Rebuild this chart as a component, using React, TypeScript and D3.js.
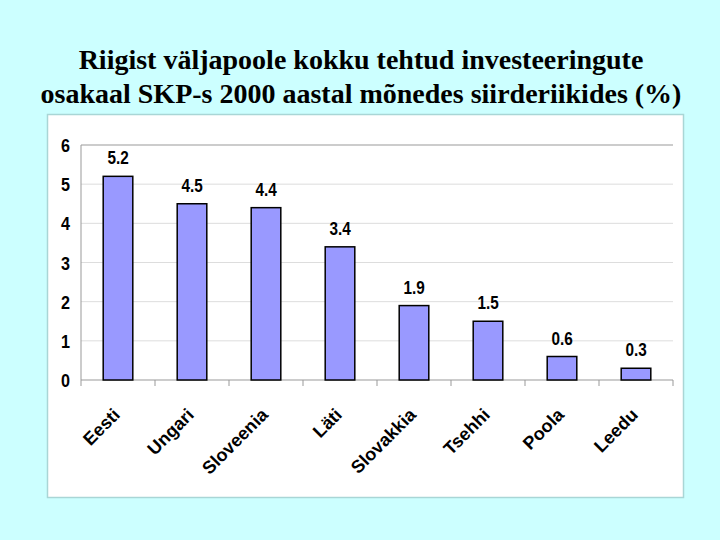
import React from "react";
import * as d3 from "d3";

const categories = ["Eesti", "Ungari", "Sloveenia", "Läti", "Slovakkia", "Tsehhi", "Poola", "Leedu"];
const values = [5.2, 4.5, 4.4, 3.4, 1.9, 1.5, 0.6, 0.3];
const yTicks = [0, 1, 2, 3, 4, 5, 6];
const titleLines = [
  "Riigist väljapoole kokku tehtud investeeringute",
  "osakaal SKP-s 2000 aastal mõnedes siirderiikides (%)",
];

export default function App() {
  const W = 720, H = 540;
  const left = 81, right = 673, top = 145, bottom = 380;
  const x = d3.scaleBand<string>().domain(categories).range([left, right]).paddingInner(0.6).paddingOuter(0.3);
  const xb = d3.scaleBand<string>().domain(categories).range([left, right]);
  const y = d3.scaleLinear().domain([0, 6]).range([bottom, top]);
  const font = "Arial, 'Liberation Sans', sans-serif";
  return (
    <svg width={W} height={H} style={{ position: "absolute", left: 0, top: 0 }}>
      <rect x={0} y={0} width={W} height={H} fill="#CCFFFF" />
      <rect x={47.5} y={114.5} width={636} height={383} fill="#fff" stroke="#a9d6d6" strokeWidth={1.5} />
      {titleLines.map((t, i) => (
        <text key={i} x={361} y={69 + i * 34} textAnchor="middle" fontFamily="'Times New Roman', 'Liberation Serif', serif" fontWeight="bold" fontSize={28} fill="#000">{t}</text>
      ))}
      {yTicks.map((t) => (
        <g key={t}>
          {t > 0 && <line x1={left} x2={right} y1={y(t)} y2={y(t)} stroke={t === 6 ? "#999" : "#ddd"} strokeWidth={1} />}
          <text transform={`translate(70,${y(t) + 7}) scale(0.85,1)`} textAnchor="end" fontFamily={font} fontWeight="bold" fontSize={19}>{t}</text>
        </g>
      ))}
      <line x1={left} x2={left} y1={top} y2={bottom} stroke="#999" />
      <line x1={left} x2={right} y1={bottom} y2={bottom} stroke="#999" />
      {categories.concat(["__end"]).map((c, i) => {
        const xx = i < categories.length ? (xb(c) as number) : right;
        return <line key={c} x1={xx} x2={xx} y1={bottom} y2={bottom + 6} stroke="#999" />;
      })}
      {categories.map((c, i) => {
        const bx = x(c) as number;
        const cx = bx + x.bandwidth() / 2;
        return (
          <g key={c}>
            <rect x={bx} y={y(values[i])} width={x.bandwidth()} height={bottom - y(values[i])} fill="#9999FF" stroke="#000" strokeWidth={1.5} />
            <text transform={`translate(${cx},${y(values[i]) - 12}) scale(0.85,1)`} textAnchor="middle" fontFamily={font} fontWeight="bold" fontSize={18}>{values[i]}</text>
            <text transform={`translate(${cx + 3},${416}) rotate(-45)`} textAnchor="end" fontFamily={font} fontWeight="bold" fontSize={18}>{c}</text>
          </g>
        );
      })}
    </svg>
  );
}
